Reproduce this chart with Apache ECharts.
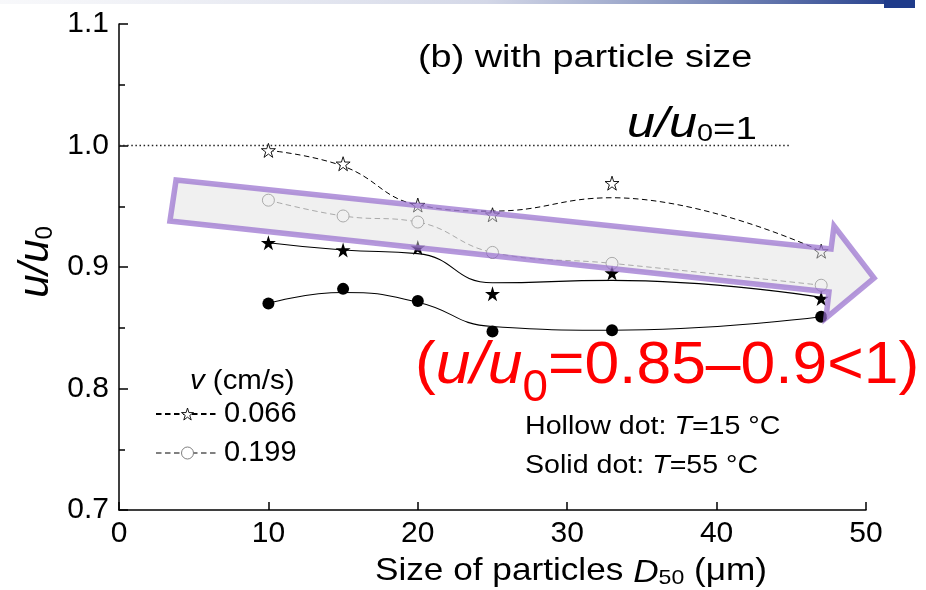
<!DOCTYPE html>
<html><head><meta charset="utf-8">
<script src="https://cdn.jsdelivr.net/npm/echarts@6/dist/echarts.min.js"></script>
<style>html,body{margin:0;padding:0;background:#fff}#c{width:926px;height:590px}</style>
</head><body><div id="c"></div>
<script>
// ---- data ----
const particleSize = [10, 15, 20, 25, 33, 47];           // D50 (um)
// T = 15 C (hollow)
const hollowStarV066 = [0.996, 0.985, 0.951, 0.943, 0.969, 0.913];
const hollowStarV066Fit = [0.996, 0.983, 0.951, 0.946, 0.957, 0.913];
const hollowCircleV199 = [0.955, 0.942, 0.937, 0.912, 0.903, 0.885];
const hollowCircleV199Fit = [0.955, 0.942, 0.937, 0.912, 0.903, 0.885];
// T = 55 C (solid)
const solidStarV066 = [0.920, 0.914, 0.916, 0.878, 0.895, 0.874];
const solidStarV066Fit = [0.920, 0.914, 0.911, 0.887, 0.889, 0.875];
const solidCircleV199 = [0.870, 0.882, 0.872, 0.847, 0.848, 0.859];
const solidCircleV199Fit = [0.870, 0.879, 0.871, 0.851, 0.848, 0.859];
// reference line u/u0 = 1
const refLineX = [0, 45];
const refLineY = [1, 1];
// annotation arrow outline (data units)
const arrowX = [3.82, 47.66, 47.86, 50.54, 47.32, 47.52, 3.41];
const arrowY = [0.9716, 0.9148, 0.9337, 0.8909, 0.858, 0.8794, 0.9379];
// axes
const xMin = 0, xMax = 50, xStep = 10;
const yMin = 0.7, yMax = 1.1, yStep = 0.1;
const legendNames = ['0.066', '0.199'];

const FONT = '"Liberation Sans", Arial, sans-serif';
const STAR = 'path://M50,2 L61.2,36.5 L97.6,36.5 L68.2,57.9 L79.4,92.5 L50,71.1 L20.6,92.5 L31.8,57.9 L2.4,36.5 L38.8,36.5 Z';
const zip = (xs, ys) => xs.map((x, i) => [x, ys[i]]);

const chart = echarts.init(document.getElementById('c'), null, {renderer: 'canvas'});

const option = {
  backgroundColor: '#fff',
  animation: false,
  grid: {left: 119, right: 60, top: 24, bottom: 80, containLabel: false},
  xAxis: {
    type: 'value', min: xMin, max: xMax, interval: xStep,
    axisLine: {show: true, onZero: false, lineStyle: {color: '#000', width: 1.5}},
    axisTick: {show: true, inside: true, length: 8, lineStyle: {color: '#000', width: 1.5}},
    axisLabel: {fontSize: 30, color: '#000', fontFamily: FONT, margin: 9},
    splitLine: {show: false}
  },
  yAxis: {
    type: 'value', min: yMin, max: yMax, interval: yStep,
    axisLine: {show: true, onZero: false, lineStyle: {color: '#000', width: 1.5}},
    axisTick: {show: true, inside: true, length: 9, lineStyle: {color: '#000', width: 1.5}},
    minorTick: {show: true, splitNumber: 2, length: 6, lineStyle: {color: '#000', width: 1.5}},
    axisLabel: {fontSize: 30, color: '#000', fontFamily: FONT, margin: 10, formatter: v => v.toFixed(1)},
    splitLine: {show: false}
  },
  legend: {
    data: [
      {name: legendNames[0], itemStyle: {color: '#fff', borderColor: '#000', borderWidth: 0.9}},
      {name: legendNames[1], itemStyle: {color: '#fff', borderColor: '#808080', borderWidth: 1}}
    ],
    orient: 'vertical', left: 150, top: 394,
    itemWidth: 63, itemHeight: 15, itemGap: 9,
    textStyle: {fontSize: 29, lineHeight: 30, color: '#000', fontFamily: FONT},
    selectedMode: false
  },
  series: [
    {name: 'ref', type: 'line', data: zip(refLineX, refLineY), symbol: 'none', silent: true,
     lineStyle: {color: '#222', width: 1.3, type: [1.5, 2.6]}, z: 1},
    {name: '0.066', type: 'line', data: zip(particleSize, hollowStarV066Fit), smooth: 0.45,
     symbol: STAR, showSymbol: false, itemStyle: {color: '#fff', borderColor: '#000', borderWidth: 0.9},
     lineStyle: {color: '#000', width: 1, type: [5.5, 3.5]}, z: 2},
    {name: '0.199', type: 'line', data: zip(particleSize, hollowCircleV199Fit), smooth: 0.45,
     symbol: 'circle', showSymbol: false, itemStyle: {color: '#fff', borderColor: '#808080', borderWidth: 1},
     lineStyle: {color: '#808080', width: 1, type: [5.5, 3.5]}, z: 2},
    {name: 'solidStarFit', type: 'line', data: zip(particleSize, solidStarV066Fit), smooth: 0.5,
     symbol: 'none', lineStyle: {color: '#000', width: 1.1}, z: 2},
    {name: 'solidCircleFit', type: 'line', data: zip(particleSize, solidCircleV199Fit), smooth: 0.5,
     symbol: 'none', lineStyle: {color: '#000', width: 1.1}, z: 2},
    {name: 'hs', type: 'scatter', data: zip(particleSize, hollowStarV066), symbol: STAR, symbolSize: 14,
     itemStyle: {color: '#fff', borderColor: '#000', borderWidth: 0.9, opacity: 1}, z: 3},
    {name: 'hc', type: 'scatter', data: zip(particleSize, hollowCircleV199), symbol: 'circle', symbolSize: 12,
     itemStyle: {color: '#fff', borderColor: '#808080', borderWidth: 1, opacity: 1}, z: 3},
    {name: 'ss', type: 'scatter', data: zip(particleSize, solidStarV066), symbol: STAR, symbolSize: 15,
     itemStyle: {color: '#000', opacity: 1}, z: 3},
    {name: 'sc', type: 'scatter', data: zip(particleSize, solidCircleV199), symbol: 'circle', symbolSize: 12,
     itemStyle: {color: '#000', opacity: 1}, z: 3},
    {name: 'arrow', type: 'custom', clip: false, silent: true, z: 10,
     data: [[arrowX[0], arrowY[0]]],
     renderItem: function (params, api) {
       const pts = arrowX.map((x, i) => api.coord([x, arrowY[i]]));
       return {type: 'polygon', shape: {points: pts},
         style: {fill: 'rgba(222,222,222,0.45)', stroke: 'rgba(150,108,205,0.7)', lineWidth: 5.5, lineJoin: 'miter'}};
     }}
  ],
  graphic: [
    // slide decoration at the top
    {type: 'rect', left: 0, top: 0, shape: {width: 884, height: 4}, silent: true,
     style: {fill: new echarts.graphic.LinearGradient(0, 0, 1, 0, [
       {offset: 0, color: 'rgba(230,232,240,0.3)'}, {offset: 0.55, color: 'rgba(200,205,225,0.8)'}, {offset: 1, color: '#2a448f'}])}},
    {type: 'rect', left: 884, top: 0, shape: {width: 31, height: 8}, silent: true, style: {fill: '#1f3b8a'}},
    // panel title
    {type: 'text', x: 418, y: 58, scaleX: 1.22, silent: true,
     style: {text: '(b) with particle size', font: '31px ' + FONT, fill: '#000', textAlign: 'left', textVerticalAlign: 'middle'}},
    // u/u0 = 1 label
    {type: 'text', x: 627, y: 104, scaleX: 1.2, silent: true,
     style: {text: '{a|u/u}{s|0}{b|=1}', fill: '#000', textAlign: 'left', textVerticalAlign: 'top',
       rich: {a: {fontSize: 42, fontStyle: 'italic', fontFamily: FONT, lineHeight: 42, verticalAlign: 'bottom'},
              s: {fontSize: 24, fontFamily: FONT, lineHeight: 33, verticalAlign: 'bottom'},
              b: {fontSize: 32, fontFamily: FONT, lineHeight: 36, verticalAlign: 'bottom'}}}},
    // y axis name
    {type: 'text', x: 35, y: 262, rotation: Math.PI / 2, silent: true,
     style: {text: '{i|u/u}{s|0}', fill: '#000', textAlign: 'center', textVerticalAlign: 'middle',
       rich: {i: {fontSize: 42, fontStyle: 'italic', fontFamily: FONT, lineHeight: 44, verticalAlign: 'bottom'},
              s: {fontSize: 24, fontFamily: FONT, lineHeight: 33, verticalAlign: 'bottom'}}}},
    // x axis name
    {type: 'text', x: 571, y: 571, scaleX: 1.1, silent: true,
     style: {text: 'Size of particles {i|D}{s|50} (μm)', font: '32px ' + FONT, fill: '#000', textAlign: 'center', textVerticalAlign: 'middle',
       rich: {i: {fontSize: 32, fontStyle: 'italic', fontFamily: FONT, lineHeight: 36, verticalAlign: 'bottom'},
              s: {fontSize: 21, fontFamily: FONT, lineHeight: 30, verticalAlign: 'bottom'}}}},
    // red annotation
    {type: 'text', x: 415, y: 336, scaleX: 1.04, silent: true,
     style: {text: '{p|(}{i|u/u}{s|0}{p|=0.85–0.9<1)}', fill: '#ff0000', textAlign: 'left', textVerticalAlign: 'top',
       rich: {p: {fontSize: 60, fontFamily: FONT, lineHeight: 64, verticalAlign: 'top', color: '#ff0000'},
              i: {fontSize: 60, fontStyle: 'italic', fontFamily: FONT, lineHeight: 64, verticalAlign: 'top', color: '#ff0000'},
              s: {fontSize: 44, fontFamily: FONT, lineHeight: 46, padding: [31, 0, 0, 0], verticalAlign: 'top', color: '#ff0000'}}}},
    // temperature notes
    {type: 'text', x: 525, y: 427, scaleX: 1.1, silent: true,
     style: {text: 'Hollow dot: {i|T}=15 °C', font: '26px ' + FONT, fill: '#000', textAlign: 'left', textVerticalAlign: 'middle',
       rich: {i: {fontSize: 26, fontStyle: 'italic', fontFamily: FONT}}}},
    {type: 'text', x: 525, y: 466, scaleX: 1.1, silent: true,
     style: {text: 'Solid dot: {i|T}=55 °C', font: '26px ' + FONT, fill: '#000', textAlign: 'left', textVerticalAlign: 'middle',
       rich: {i: {fontSize: 26, fontStyle: 'italic', fontFamily: FONT}}}},
    // legend title
    {type: 'text', x: 190, y: 381, scaleX: 1.05, silent: true,
     style: {text: '{i|v} (cm/s)', font: '28px ' + FONT, fill: '#000', textAlign: 'left', textVerticalAlign: 'middle',
       rich: {i: {fontSize: 28, fontStyle: 'italic', fontFamily: FONT}}}}
  ]
};
chart.setOption(option);
</script></body></html>
